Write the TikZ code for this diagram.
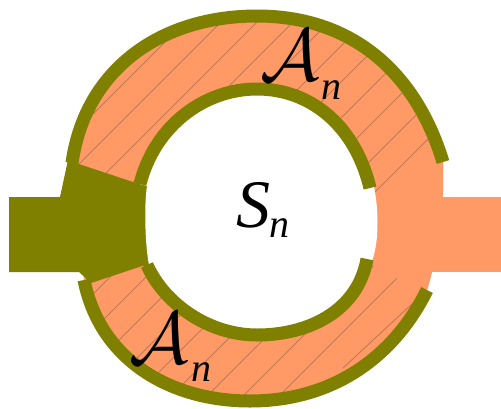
\documentclass[tikz,border=0pt]{standalone}
\usepackage{fontspec}
\newfontfamily\labelfont[ItalicFont=Liberation Serif Italic]{Liberation Serif}
\definecolor{ringorange}{HTML}{FF9966}
\definecolor{ringolive}{HTML}{808000}
\definecolor{hatchbrown}{HTML}{B87350}
\tikzset{
  rimline/.style={draw=ringolive,line width=13pt,line cap=butt},
  hatchline/.style={draw=hatchbrown,line width=0.7pt},
  bigtext/.style={inner sep=0pt,outer sep=0pt,text=black},
  bigA/.style={bigtext,scale=7.4},
  subn/.style={bigtext,font=\labelfont\itshape\fontsize{40}{40}\selectfont},
}
\def\bodypath{(72,163) .. controls (85,70) and (160,16) .. (257,16) .. controls (350,16) and (415,70) .. (443,162) .. controls (444,200) and (442,240) .. (427,290) .. controls (395,355) and (335,401) .. (250,401) .. controls (170,401) and (100,360) .. (84,280) -- cycle}
\begin{document}
\begin{tikzpicture}[x=1pt,y=-1pt]
\useasboundingbox (0,0) rectangle (501,408);
% tab
\fill[ringorange] (400,197) rectangle (501,272);
% orange body
\fill[ringorange] \bodypath;
\begin{scope}
  \clip \bodypath;
  \foreach \c in {207,243,...,675}{
    \draw[hatchline] (\c,0) -- (0,\c);
  }
  \fill[ringorange] (370,200) -- (455,115) -- (501,115) -- (501,310) -- (413,300) -- (398,279) -- (370,264) -- cycle;
\end{scope}
\coordinate (hatchA) at (343,368);
\coordinate (hatchB) at (413,303);
\draw[hatchline] (hatchA) -- (hatchB);
% olive left patch and tab
\fill[ringolive] (9,197) -- (60,197) -- (68,160) -- (79,164) -- (136,183) -- (165,183) -- (165,266) -- (142,266) -- (91,283) -- (79,272) -- (9,272) -- cycle;
% hole
\fill[white] (140,184) .. controls (155,125) and (205,89) .. (257,89) .. controls (310,89) and (355,125) .. (374,187) .. controls (378,205) and (380,240) .. (372,261) -- (367,259) .. controls (358,310) and (310,335) .. (257,335) .. controls (210,335) and (165,305) .. (149,265) .. controls (145,245) and (144,205) .. (147,186) -- cycle;
% rims
\draw[rimline] (140,184) .. controls (155,125) and (205,89) .. (257,89) .. controls (310,89) and (355,125) .. (370,188);
\draw[rimline] (147,265) .. controls (165,305) and (210,335) .. (257,335) .. controls (310,335) and (358,310) .. (367,259);
\draw[rimline] (72,163) .. controls (85,70) and (160,16) .. (257,16) .. controls (350,16) and (415,70) .. (443,162);
\draw[rimline] (84,280) .. controls (100,360) and (170,401) .. (250,401) .. controls (335,401) and (395,355) .. (427,290);
% labels
\node[bigA] (a1) at (290,55) {$\mathcal{A}$};
\node[subn] (n1) at (331,90) {n};
\node[bigA] (a2) at (159,338) {$\mathcal{A}$};
\node[subn] (n2) at (201,372) {n};
\node[bigtext,font=\labelfont\itshape\fontsize{68}{68}\selectfont] (s) at (253,205) {S};
\node[subn] (n3) at (279,228) {n};
\end{tikzpicture}
\end{document}
